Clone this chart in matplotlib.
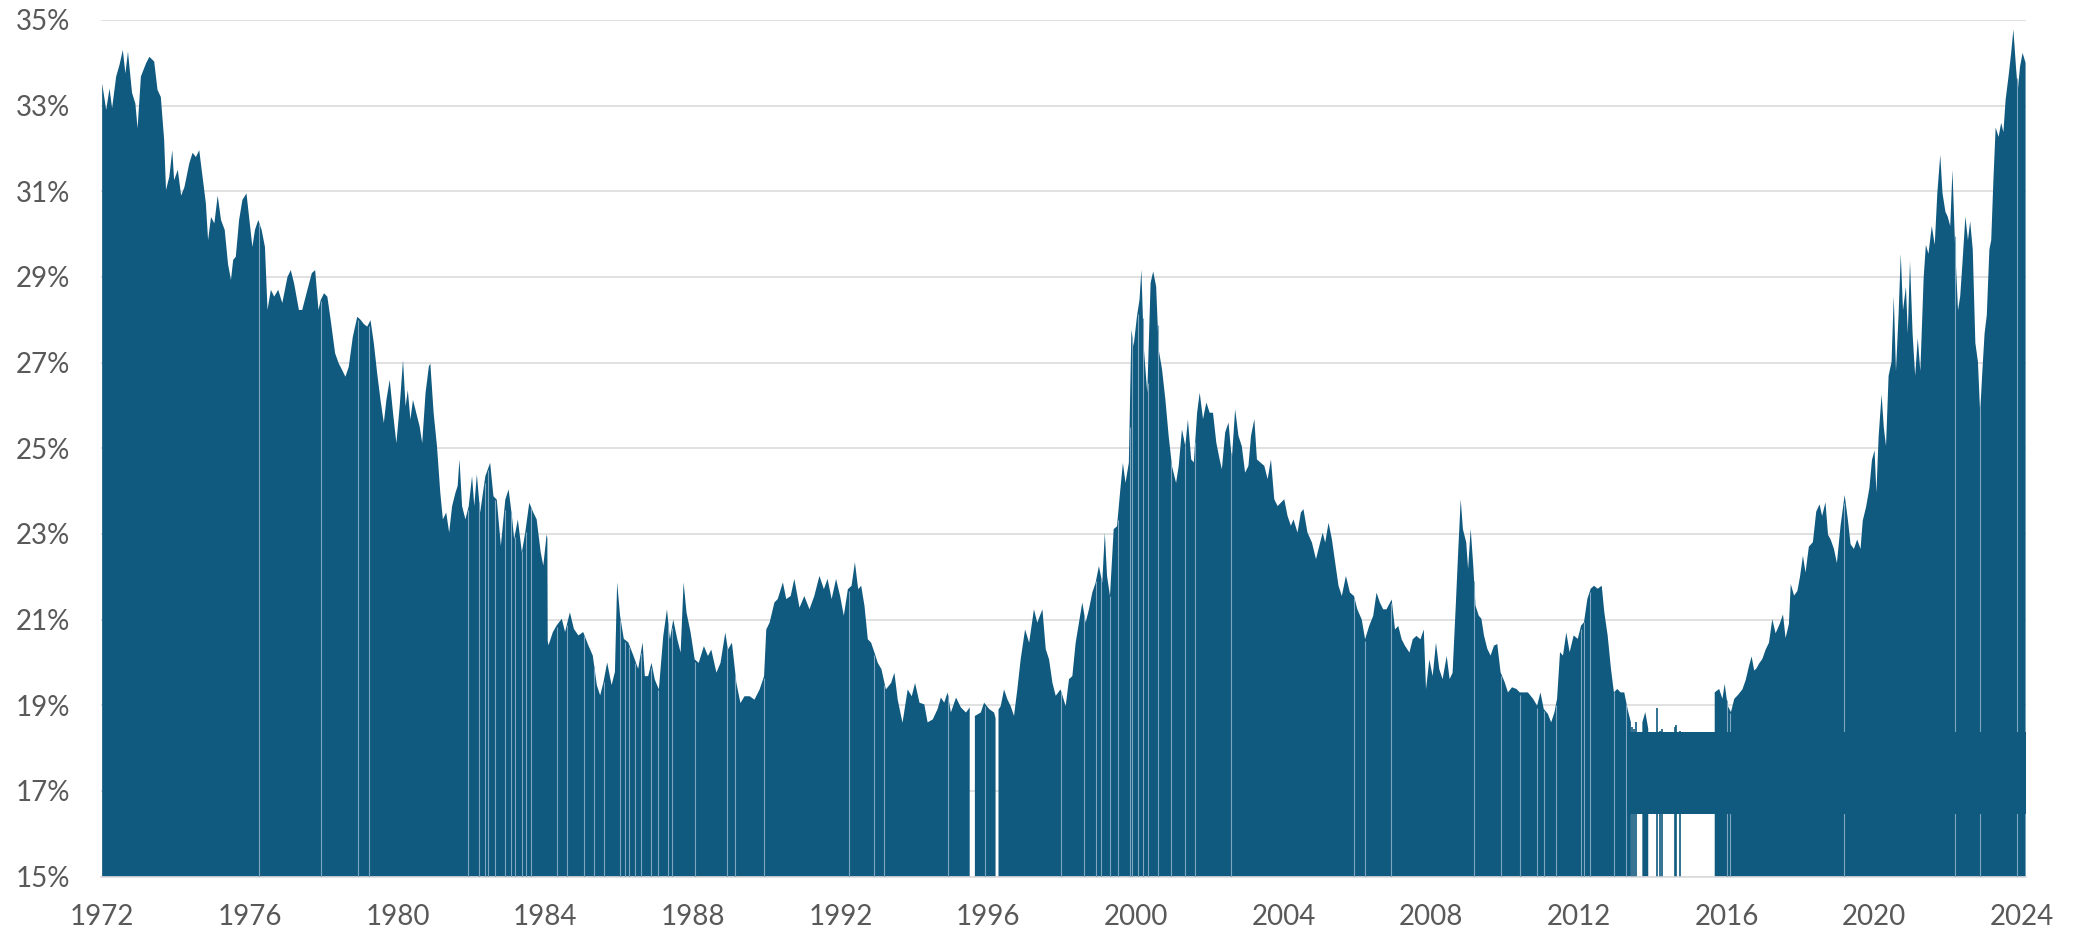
import numpy as np
import matplotlib.pyplot as plt

nan = float("nan")

# readings: decimal year -> percent
years = [
    1972.00, 1972.11, 1972.20, 1972.27, 1972.38, 1972.47, 1972.56, 1972.63, 1972.70, 1972.81, 1972.90, 1972.96,
    1973.05, 1973.19, 1973.28, 1973.41, 1973.50, 1973.59, 1973.68, 1973.73, 1973.82, 1973.90, 1973.95,
    1974.05, 1974.14, 1974.23, 1974.36, 1974.45, 1974.54, 1974.63, 1974.72, 1974.81, 1974.87, 1974.95,
    1975.04, 1975.13, 1975.22, 1975.32, 1975.41, 1975.49, 1975.55, 1975.62, 1975.71, 1975.80, 1975.91,
    1976.00, 1976.07, 1976.14, 1976.23, 1976.32, 1976.41, 1976.48, 1976.57, 1976.66, 1976.77, 1976.88,
    1977.02, 1977.11, 1977.20, 1977.33, 1977.42, 1977.56, 1977.68, 1977.77, 1977.86, 1977.92,
    1978.01, 1978.10, 1978.19, 1978.31, 1978.41, 1978.50, 1978.59, 1978.68, 1978.79, 1978.91,
    1979.00, 1979.09, 1979.18, 1979.27, 1979.36, 1979.45, 1979.54, 1979.63, 1979.70, 1979.79, 1979.88, 1979.97,
    1980.06, 1980.15, 1980.22, 1980.28, 1980.35, 1980.42, 1980.51, 1980.60, 1980.67, 1980.76, 1980.85, 1980.89, 1980.98,
    1981.07, 1981.16, 1981.23, 1981.32, 1981.40, 1981.48, 1981.57, 1981.63, 1981.68, 1981.75, 1981.84, 1981.93,
    1982.02, 1982.08, 1982.15, 1982.24, 1982.38, 1982.51, 1982.60, 1982.69, 1982.80, 1982.92,
    1983.01, 1983.10, 1983.16, 1983.26, 1983.37, 1983.46, 1983.57, 1983.68, 1983.77, 1983.88, 1983.95,
    1984.04, 1984.06, 1984.07, 1984.09, 1984.21, 1984.31, 1984.45, 1984.54, 1984.67, 1984.78, 1984.90,
    1985.03, 1985.17, 1985.29, 1985.40, 1985.49, 1985.58, 1985.68, 1985.80, 1985.89, 1985.95,
    1986.03, 1986.13, 1986.25, 1986.39, 1986.52, 1986.64, 1986.70, 1986.79, 1986.88, 1986.97,
    1987.08, 1987.20, 1987.30, 1987.38, 1987.47, 1987.58, 1987.67, 1987.75, 1987.83, 1987.94,
    1988.05, 1988.16, 1988.30, 1988.41, 1988.50, 1988.64, 1988.75, 1988.88, 1988.95,
    1989.06, 1989.18, 1989.29, 1989.40, 1989.54, 1989.67, 1989.81, 1989.93, 1989.99,
    1990.08, 1990.21, 1990.30, 1990.44, 1990.53, 1990.65, 1990.75, 1990.89,
    1991.02, 1991.16, 1991.29, 1991.43, 1991.55, 1991.65, 1991.76, 1991.88, 1991.99,
    1992.09, 1992.20, 1992.30, 1992.39, 1992.48, 1992.56, 1992.65, 1992.74, 1992.83, 1992.92,
    1993.01, 1993.11, 1993.23, 1993.37, 1993.46, 1993.55, 1993.68, 1993.82, 1993.93,
    1994.02, 1994.14, 1994.27, 1994.36, 1994.50, 1994.63, 1994.72, 1994.81, 1994.90, 1994.99,
    1995.13, 1995.26, 1995.40, 1995.50, 1995.57, 1995.64, 1995.80, 1995.89,
    1996.03, 1996.16, 1996.20, 1996.24, 1996.28, 1996.34, 1996.43, 1996.52, 1996.61, 1996.70, 1996.79, 1996.88,
    1997.00, 1997.11, 1997.24, 1997.33, 1997.47, 1997.56, 1997.65, 1997.74, 1997.83, 1997.96,
    1998.10, 1998.19, 1998.28, 1998.37, 1998.46, 1998.55, 1998.64, 1998.73, 1998.82, 1998.91,
    1999.00, 1999.09, 1999.16, 1999.22, 1999.30, 1999.40, 1999.49, 1999.58, 1999.65, 1999.72, 1999.81, 1999.88, 1999.94,
    2000.03, 2000.10, 2000.15, 2000.22, 2000.31, 2000.40, 2000.47, 2000.55, 2000.62, 2000.71, 2000.80, 2000.89, 2000.98,
    2001.09, 2001.16, 2001.25, 2001.34, 2001.41, 2001.50, 2001.57, 2001.66, 2001.73, 2001.82, 2001.91,
    2002.00, 2002.09, 2002.18, 2002.27, 2002.33, 2002.42, 2002.51, 2002.60, 2002.69, 2002.78, 2002.87, 2002.96,
    2003.05, 2003.12, 2003.21, 2003.28, 2003.37, 2003.48, 2003.57, 2003.66, 2003.75, 2003.84, 2003.93,
    2004.02, 2004.11, 2004.20, 2004.27, 2004.38, 2004.47, 2004.54, 2004.65, 2004.77, 2004.88, 2004.97,
    2005.06, 2005.13, 2005.22, 2005.31, 2005.40, 2005.49, 2005.58, 2005.69, 2005.80, 2005.91,
    2006.00, 2006.12, 2006.21, 2006.32, 2006.43, 2006.52, 2006.61, 2006.70, 2006.79, 2006.93,
    2007.02, 2007.11, 2007.20, 2007.29, 2007.41, 2007.50, 2007.60, 2007.71, 2007.80, 2007.86, 2007.95,
    2008.04, 2008.13, 2008.22, 2008.31, 2008.42, 2008.50, 2008.58, 2008.67, 2008.73, 2008.80, 2008.86, 2008.95,
    2009.00, 2009.07, 2009.14, 2009.20, 2009.29, 2009.36, 2009.43, 2009.52, 2009.61, 2009.70, 2009.79, 2009.88, 2009.99,
    2010.08, 2010.19, 2010.31, 2010.40, 2010.51, 2010.62, 2010.76, 2010.87, 2010.96,
    2011.05, 2011.16, 2011.25, 2011.34, 2011.41, 2011.49, 2011.57, 2011.66, 2011.75, 2011.86, 2011.97,
    2012.06, 2012.14, 2012.23, 2012.32, 2012.41, 2012.51, 2012.62, 2012.69, 2012.78, 2012.87, 2012.95,
    2013.04, 2013.13, 2013.23, 2013.32, 2013.41, 2013.43, 2013.72, 2013.80, 2013.88, 2013.90,
    2015.66, 2015.68, 2015.80, 2015.89, 2015.95,
    2016.03, 2016.12, 2016.21, 2016.30, 2016.43, 2016.52, 2016.61, 2016.68, 2016.75, 2016.81, 2016.88, 2016.97,
    2017.06, 2017.15, 2017.24, 2017.33, 2017.44, 2017.53, 2017.60, 2017.69, 2017.74, 2017.83, 2017.92, 2017.99,
    2018.07, 2018.14, 2018.23, 2018.34, 2018.43, 2018.52, 2018.59, 2018.68, 2018.75, 2018.82, 2018.91, 2018.99,
    2019.09, 2019.20, 2019.29, 2019.36, 2019.45, 2019.54, 2019.63, 2019.69, 2019.78, 2019.87, 2019.94,
    2020.01, 2020.06, 2020.12, 2020.20, 2020.26, 2020.32, 2020.39, 2020.47, 2020.53, 2020.59, 2020.66, 2020.72,
    2020.78, 2020.86, 2020.91, 2020.97,
    2021.04, 2021.11, 2021.18, 2021.25, 2021.34, 2021.40, 2021.47, 2021.56, 2021.64, 2021.71, 2021.79, 2021.85,
    2021.93, 2021.99,
    2022.06, 2022.12, 2022.19, 2022.27, 2022.33, 2022.39, 2022.47, 2022.54, 2022.60, 2022.67, 2022.74, 2022.81,
    2022.87, 2022.93, 2022.99,
    2023.05, 2023.12, 2023.17, 2023.23, 2023.29, 2023.37, 2023.44, 2023.50, 2023.56, 2023.64, 2023.71, 2023.77,
    2023.84, 2023.89, 2023.95, 2024.02, 2024.10,
]
share = [
    33.52, 32.90, 33.40, 32.94, 33.68, 33.95, 34.30, 33.75, 34.26, 33.30, 33.05, 32.47,
    33.68, 33.99, 34.14, 34.03, 33.37, 33.20, 32.20, 31.03, 31.34, 31.96, 31.26,
    31.50, 30.90, 31.10, 31.65, 31.90, 31.80, 31.96, 31.34, 30.72, 29.86, 30.40,
    30.25, 30.90, 30.33, 30.10, 29.30, 28.93, 29.40, 29.47, 30.33, 30.80, 30.95,
    30.25, 29.70, 30.10, 30.33, 30.10, 29.70, 28.23, 28.70, 28.54, 28.70, 28.39,
    29.00, 29.16, 28.85, 28.23, 28.23, 28.70, 29.09, 29.16, 28.23, 28.46,
    28.62, 28.54, 28.00, 27.22, 26.98, 26.83, 26.67, 26.90, 27.60, 28.07,
    28.00, 27.90, 27.84, 27.99, 27.45, 26.75, 26.13, 25.59, 26.13, 26.60, 25.82, 25.12,
    25.98, 27.06, 25.98, 26.36, 25.67, 26.13, 25.82, 25.51, 25.12, 26.29, 26.91, 26.98, 25.82,
    25.05, 23.96, 23.34, 23.50, 23.03, 23.65, 23.96, 24.12, 24.74, 23.65, 23.34, 23.65,
    24.35, 23.65, 24.39, 23.50, 24.35, 24.66, 23.88, 23.80, 22.72, 23.80,
    24.04, 23.42, 22.88, 23.34, 22.57, 23.03, 23.73, 23.50, 23.34, 22.57, 22.26,
    22.99, 22.90, 20.50, 20.40, 20.71, 20.86, 21.02, 20.71, 21.17, 20.78, 20.63,
    20.71, 20.40, 20.16, 19.47, 19.23, 19.54, 20.00, 19.47, 19.78, 21.87,
    21.09, 20.55, 20.47, 20.16, 19.85, 20.47, 19.68, 19.68, 19.99, 19.60,
    19.37, 20.62, 21.24, 20.54, 21.00, 20.54, 20.23, 21.87, 21.16, 20.70,
    20.07, 19.99, 20.38, 20.15, 20.30, 19.76, 19.99, 20.70, 20.30,
    20.46, 19.52, 19.05, 19.21, 19.21, 19.13, 19.37, 19.68, 20.77,
    20.93, 21.40, 21.48, 21.87, 21.48, 21.55, 21.95, 21.28,
    21.55, 21.24, 21.55, 22.02, 21.71, 21.95, 21.48, 21.95, 21.55,
    21.09, 21.71, 21.79, 22.34, 21.71, 21.79, 21.32, 20.54, 20.46, 20.23,
    19.99, 19.84, 19.37, 19.52, 19.76, 19.13, 18.59, 19.37, 19.21,
    19.52, 19.06, 19.02, 18.60, 18.67, 18.91, 19.18, 19.06, 19.30, 18.83,
    19.18, 18.95, 18.83, 18.95, nan, 18.75, 18.83, 19.06,
    18.91, 18.83, 18.70, nan, 18.90, 18.98, 19.37, 19.14, 18.98, 18.75, 19.37, 20.07,
    20.77, 20.46, 21.24, 20.93, 21.24, 20.31, 20.07, 19.53, 19.22, 19.37,
    18.98, 19.61, 19.68, 20.46, 20.93, 21.40, 20.93, 21.24, 21.63, 21.86,
    22.25, 21.86, 23.03, 22.02, 21.55, 23.11, 23.18, 24.04, 24.66, 24.19, 24.66, 27.77, 27.38,
    28.08, 28.47, 29.17, 27.30, 26.29, 28.86, 29.13, 28.78, 27.30, 26.84, 26.14, 25.28, 24.58,
    24.19, 24.58, 25.44, 25.05, 25.67, 24.74, 24.67, 25.83, 26.30, 25.68, 26.07,
    25.83, 25.83, 25.13, 24.74, 24.51, 25.37, 25.60, 24.74, 25.91, 25.29, 25.05, 24.43,
    24.59, 25.29, 25.68, 24.74, 24.67, 24.59, 24.28, 24.74, 23.81, 23.65, 23.73,
    23.81, 23.42, 23.19, 23.34, 23.03, 23.50, 23.58, 23.03, 22.80, 22.41, 22.72,
    23.03, 22.80, 23.26, 22.88, 22.33, 21.79, 21.55, 22.02, 21.63, 21.55,
    21.24, 21.00, 20.54, 20.85, 21.09, 21.63, 21.40, 21.24, 21.24, 21.47,
    20.77, 20.85, 20.54, 20.39, 20.23, 20.54, 20.62, 20.54, 20.77, 19.37, 20.07,
    19.68, 20.46, 19.84, 19.61, 20.15, 19.61, 19.76, 21.40, 22.56, 23.81, 23.11, 22.80,
    22.18, 23.12, 22.26, 21.33, 21.09, 21.02, 20.63, 20.32, 20.16, 20.39, 20.43, 19.77, 19.54,
    19.30, 19.42, 19.38, 19.30, 19.30, 19.30, 19.15, 18.99, 19.30,
    18.91, 18.80, 18.60, 18.84, 19.15, 20.24, 20.16, 20.70, 20.24, 20.63, 20.55,
    20.86, 20.94, 21.48, 21.72, 21.79, 21.72, 21.79, 21.17, 20.63, 19.85, 19.30,
    19.38, 19.30, 19.30, 18.91, 18.60, nan, 18.60, 18.84, 18.45, nan,
    nan, 19.30, 19.38, 19.15, 19.50,
    18.99, 18.84, 19.15, 19.23, 19.37, 19.59, 19.92, 20.14, 19.81, 19.86, 19.97, 20.08,
    20.30, 20.46, 21.01, 20.68, 20.90, 21.12, 20.57, 20.90, 21.83, 21.56, 21.67, 22.00,
    22.49, 22.10, 22.70, 22.81, 23.52, 23.69, 23.42, 23.74, 22.98, 22.87, 22.65, 22.32,
    23.20, 23.91, 23.31, 22.76, 22.65, 22.87, 22.65, 23.31, 23.63, 24.07, 24.73,
    24.95, 23.96, 25.27, 26.26, 25.49, 25.05, 26.69, 27.02, 28.55, 26.80, 28.11, 29.54,
    28.22, 28.77, 27.68, 29.37,
    27.68, 26.69, 27.57, 26.80, 28.99, 29.75, 29.54, 30.19, 29.75, 30.96, 31.85, 30.96,
    30.52, 30.41,
    30.19, 31.50, 29.75, 28.22, 28.55, 29.32, 30.41, 29.86, 30.30, 29.64, 27.46, 27.02,
    25.82, 26.80, 27.68,
    28.11, 29.64, 29.86, 31.28, 32.49, 32.27, 32.60, 32.38, 33.14, 33.69, 34.23, 34.78,
    33.91, 33.36, 33.91, 34.23, 34.00,
]

# isolated observations inside the 2013-2015 hole
spike_years = [2013.45, 2013.50, 2013.55, 2014.12, 2014.20, 2014.24, 2014.60, 2014.64, 2014.73]
spike_share = [18.50, 18.45, 18.60, 18.93, 18.40, 18.45, 18.50, 18.54, 18.40]

# thin light seams visible in the columns
seam_years = [
    1976.25, 1977.94, 1978.93, 1979.22, 1981.92, 1982.21, 1982.36, 1982.46, 1982.63, 1982.90,
    1983.08, 1983.18, 1983.36, 1983.47, 1983.61, 1984.33, 1984.60, 1985.05, 1985.32, 1985.59,
    1986.04, 1986.16, 1986.28, 1986.44, 1986.60, 1986.86, 1987.06, 1987.33, 1987.44, 1988.05,
    1988.93, 1989.15, 1989.93, 1992.22, 1992.92, 1993.19, 1994.90, 1995.91, 1997.96, 1998.60,
    1998.93, 1999.06, 1999.29, 1999.51, 1999.83, 1999.90, 2000.05, 2000.19, 2000.32, 2000.59,
    2000.96, 2001.32, 2001.61, 2002.58, 2005.91, 2006.21, 2006.91, 2009.16, 2009.90, 2010.40,
    2010.87, 2011.05, 2011.39, 2012.05, 2012.15, 2012.31, 2012.94, 2013.28, 2016.00, 2016.10,
    2019.18, 2022.18, 2022.86, 2023.86,
]

# flat block drawn across the right part of the chart
band_years = [2013.30, 2024.11]
band_low = 16.45
band_high = 18.37

y_ticks = list(range(15, 36, 2))
x_ticks = list(range(1972, 2025, 4))

blue = "#10597f"
seam = "#7fa6c0"
grid = "#d9d9d9"
text = "#595959"

plt.rcParams["font.family"] = ["Lato", "DejaVu Sans"]

fig = plt.figure(figsize=(20.83, 9.34), dpi=100)
ax = fig.add_axes([0.0485, 0.0615, 0.9241, 0.9171])

x = np.array(years)
y = np.array(share)
ax.fill_between(x, 15, y, color=blue, lw=0, zorder=2)
ax.vlines(spike_years, 15, spike_share, color=blue, lw=1.2, zorder=2)

ok = ~np.isnan(y)
seam_top = np.interp(seam_years, x[ok], y[ok])
ax.vlines(seam_years, 15, seam_top - 0.05, color=seam, lw=0.8, zorder=3)

ax.fill_between(band_years, band_low, band_high, color=blue, lw=0, zorder=4)

ax.set_xlim(1971.97, 2024.11)
ax.set_ylim(15, 35)
ax.set_yticks(y_ticks)
ax.set_yticklabels([f"{v}%" for v in y_ticks])
ax.set_xticks(x_ticks)
ax.set_xticklabels([str(v) for v in x_ticks])
ax.tick_params(axis="both", length=0, labelsize=20, labelcolor=text)
ax.tick_params(axis="y", pad=22)
ax.tick_params(axis="x", pad=20)

ax.grid(axis="y", color=grid, lw=1.1, zorder=0)
ax.set_axisbelow(True)
for side in ["top", "left", "right"]:
    ax.spines[side].set_visible(False)
ax.spines["bottom"].set_color(grid)
ax.spines["bottom"].set_linewidth(1.1)

fig.savefig("out.png", dpi=100)
